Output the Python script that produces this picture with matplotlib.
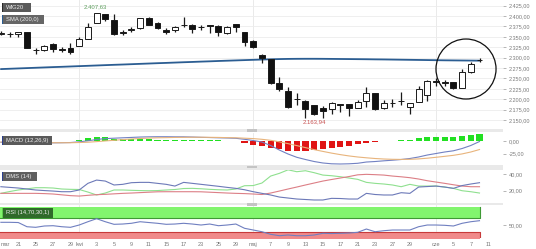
import numpy as np
import matplotlib
matplotlib.use("Agg")
import matplotlib.pyplot as plt
from matplotlib.patches import Rectangle, Ellipse

plt.rcParams['font.family'] = ['Liberation Sans', 'DejaVu Sans']

# WIG20 daily candles (index = trading session)
opens = [2356.9, 2356.9, 2356.9, 2361.0, 2319.2, 2318.4, 2332.1, 2320.6, 2322.5, 2328.8,
         2344.9, 2383.4, 2404.3, 2390.6, 2361.3, 2367.7, 2370.6, 2394.7, 2384.1, 2365.8,
         2366.5, 2378.1, 2378.6, 2373.3, 2377.4, 2376.2, 2358.6, 2380.3, 2361.0, 2340.8,
         2306.4, 2296.8, 2238.3, 2219.8, 2200.3, 2195.7, 2185.4, 2178.2, 2175.8, 2188.0,
         2187.8, 2179.6, 2195.7, 2214.3, 2178.2, 2192.1, 2195.3, 2180.6, 2194.1, 2210.2,
         2242.7, 2240.7, 2240.7, 2227.7, 2264.8, 2293.9]
highs = [2364.1, 2362.9, 2361.7, 2362.5, 2324.0, 2329.7, 2336.0, 2326.4, 2335.3, 2349.0,
         2384.1, 2408.5, 2405.8, 2405.8, 2366.5, 2373.8, 2395.4, 2398.5, 2385.8, 2370.6,
         2375.0, 2398.5, 2379.8, 2378.6, 2377.9, 2377.4, 2375.4, 2381.0, 2362.9, 2342.5,
         2308.8, 2297.5, 2252.8, 2230.1, 2215.0, 2198.2, 2187.3, 2183.7, 2193.3, 2188.5,
         2189.7, 2198.2, 2228.7, 2215.0, 2198.2, 2199.8, 2218.1, 2190.9, 2232.6, 2245.1,
         2251.8, 2245.5, 2241.9, 2272.7, 2290.3, 2299.9]
lows = [2354.5, 2350.9, 2350.4, 2323.2, 2308.8, 2317.2, 2314.3, 2313.6, 2308.8, 2328.1,
        2344.2, 2382.2, 2388.9, 2355.7, 2354.5, 2362.9, 2369.7, 2377.9, 2369.0, 2356.2,
        2361.0, 2373.8, 2358.6, 2367.7, 2360.0, 2352.8, 2357.6, 2361.0, 2328.8, 2324.4,
        2286.4, 2237.4, 2219.8, 2179.6, 2186.1, 2154.1, 2163.0, 2154.1, 2163.8, 2170.0,
        2159.7, 2178.9, 2182.0, 2174.8, 2175.8, 2180.6, 2186.1, 2163.8, 2193.3, 2196.5,
        2232.6, 2231.8, 2225.8, 2227.0, 2264.3, 2288.8]
closes = [2360.5, 2357.6, 2361.0, 2324.0, 2318.0, 2328.8, 2320.1, 2319.6, 2314.3, 2344.9,
          2374.5, 2407.63, 2392.3, 2356.2, 2360.5, 2368.5, 2394.7, 2378.6, 2370.6, 2362.5,
          2374.5, 2379.1, 2369.0, 2372.6, 2375.4, 2362.5, 2374.5, 2373.0, 2338.4, 2325.0,
          2298.5, 2238.3, 2223.9, 2180.6, 2199.4, 2175.8, 2163.94, 2172.4, 2190.2, 2186.1,
          2178.2, 2192.6, 2215.7, 2175.8, 2190.2, 2191.2, 2196.2, 2190.2, 2224.6, 2243.9,
          2241.7, 2239.0, 2227.7, 2264.8, 2284.0, 2294.9]

sma200 = [2272.5, 2273.3, 2274.1, 2274.9, 2275.7, 2276.5, 2277.3, 2278.0, 2278.8, 2279.6,
          2280.4, 2281.2, 2282.0, 2282.8, 2283.5, 2284.3, 2285.1, 2285.9, 2286.7, 2287.4,
          2288.2, 2289.0, 2289.7, 2290.5, 2291.2, 2292.0, 2292.7, 2293.4, 2294.1, 2294.8,
          2295.5, 2296.1, 2296.6, 2297.0, 2297.2, 2297.3, 2297.3, 2297.2, 2297.0, 2296.8,
          2296.6, 2296.4, 2296.2, 2295.9, 2295.7, 2295.4, 2295.1, 2294.8, 2294.5, 2294.2,
          2293.9, 2293.6, 2293.4, 2293.2, 2293.0, 2292.8]

macd_line = [-2.8, -3.2, -3.4, -3.8, -4.0, -4.0, -3.8, -3.6, -3.2, -1.8,
             0.2, 2.8, 4.6, 5.4, 6.2, 6.9, 7.7, 8.1, 8.3, 8.3,
             8.1, 8.1, 7.7, 7.1, 6.7, 6.2, 5.8, 5.2, 3.2, 0.8,
             -2.2, -9.1, -18.1, -26.0, -32.5, -36.9, -40.9, -43.8, -45.4, -45.8,
             -45.4, -44.4, -41.9, -40.9, -39.5, -38.3, -36.9, -34.9, -31.9, -28.0,
             -25.0, -22.0, -19.6, -15.1, -9.1, -1.2]
macd_signal = [-2.2, -2.4, -2.6, -3.0, -3.2, -3.4, -3.6, -3.6, -3.6, -3.2,
               -2.6, -1.4, 0.0, 1.2, 2.6, 3.8, 4.8, 5.6, 6.2, 6.5,
               6.9, 7.1, 7.3, 7.3, 7.1, 6.9, 6.5, 6.2, 5.4, 4.6,
               3.2, 1.2, -1.8, -5.4, -9.3, -13.3, -17.3, -20.8, -24.2, -27.2,
               -29.8, -31.9, -33.5, -34.9, -35.9, -36.5, -36.7, -36.5, -35.7, -34.3,
               -32.5, -30.6, -28.6, -25.8, -22.0, -17.1]
macd_hist = [-0.6, -0.6, -0.6, -0.6, -0.6, -0.6, -1.0, -1.0, -1.0, 1.5,
             5.0, 7.5, 7.0, 4.5, 3.5, 3.2, 3.0, 3.0, 2.8, 2.5,
             2.2, 2.0, 1.8, 1.5, 1.2, 1.0, 0.8, -0.8, -4.5, -8.0,
             -10.0, -13.5, -16.7, -19.4, -20.0, -20.0, -18.1, -16.7, -14.7, -11.5,
             -9.5, -6.2, -3.6, -2.8, -0.8, 0.6, 1.8, 2.4, 5.1, 7.1,
             8.3, 8.3, 8.3, 9.7, 11.7, 13.1]

dms_adx = [24.9, 24.1, 23.3, 22.1, 20.9, 20.2, 19.6, 18.8, 18.8, 20.9,
           29.0, 33.0, 31.8, 27.0, 27.8, 29.8, 30.2, 30.2, 29.0, 27.8,
           25.7, 30.2, 29.0, 27.8, 26.6, 25.4, 24.1, 22.9, 21.2, 18.8,
           16.8, 14.8, 12.3, 11.1, 9.9, 9.3, 8.7, 8.7, 10.7, 10.5,
           9.9, 9.9, 16.8, 15.4, 14.8, 14.8, 17.6, 16.8, 24.5, 25.1,
           25.7, 24.5, 22.9, 26.3, 28.2, 29.8]
dms_minus = [16.8, 19.0, 20.9, 22.3, 23.7, 23.7, 23.3, 22.1, 21.7, 21.5,
             18.4, 14.8, 17.2, 20.9, 20.9, 20.5, 20.2, 20.0, 20.2, 20.9,
             21.5, 22.7, 22.9, 22.4, 21.7, 21.2, 20.9, 22.1, 26.1, 26.3,
             29.4, 37.9, 41.2, 45.5, 43.2, 44.4, 42.0, 39.1, 38.3, 37.1,
             35.5, 33.9, 30.2, 29.0, 28.2, 27.0, 24.9, 27.8, 25.7, 25.7,
             25.7, 24.5, 22.9, 20.0, 18.8, 17.2]
dms_plus = [16.8, 16.8, 16.8, 16.8, 16.8, 16.5, 16.0, 15.0, 14.0, 13.5,
            14.4, 15.2, 15.6, 16.2, 16.8, 17.2, 17.7, 18.2, 18.7, 18.8,
            18.8, 18.8, 18.8, 18.7, 18.2, 17.7, 17.2, 16.8, 16.5, 16.0,
            15.4, 17.2, 19.6, 22.1, 24.5, 27.0, 29.4, 31.8, 33.7, 35.5,
            37.3, 39.4, 40.0, 39.6, 39.1, 37.9, 37.0, 35.9, 34.3, 32.2,
            30.6, 29.0, 27.3, 25.7, 24.9, 24.9]

rsi = [57.4, 57.4, 56.8, 45.3, 43.7, 47.3, 48.1, 45.3, 43.7, 50.0,
       59.0, 67.3, 59.0, 51.9, 52.7, 54.7, 59.0, 56.8, 54.7, 51.9,
       52.7, 54.7, 52.7, 50.0, 52.7, 48.1, 50.0, 52.7, 41.0, 36.3,
       31.6, 24.5, 20.7, 22.6, 20.7, 20.7, 22.6, 27.3, 26.7, 27.3,
       28.1, 30.0, 39.0, 31.6, 34.4, 36.3, 36.3, 36.3, 45.3, 50.0,
       50.0, 49.2, 47.3, 54.7, 59.0, 61.8]

date_pos = [0, 2, 4, 6, 8, 9, 11, 13, 15, 17, 19, 21, 23, 25, 27, 29, 31, 33, 35, 37,
            39, 41, 43, 45, 47, 50, 52, 54, 56]
date_labels = ['mar', '21', '25', '27', '29', 'kwi', '3', '5', '9', '11', '15', '17', '23',
               '25', '29', 'maj', '7', '9', '13', '15', '17', '21', '23', '27', '29',
               'cze', '5', '7', '11']
month_pos = [9, 29, 50]
price_ticks = [2150, 2175, 2200, 2225, 2250, 2275, 2300, 2325, 2350, 2375, 2400, 2425]


def pl(v):
    s = f"{v:,.2f}"
    return s.replace(',', ' ').replace('.', ',').replace(' ', '.')


W, H = 536, 249
fig = plt.figure(figsize=(W / 100, H / 100), dpi=100)
fig.patch.set_facecolor('white')
PLOT_W = 503


def px_axes(top, bottom):
    return fig.add_axes([0, 1 - bottom / H, PLOT_W / W, (bottom - top) / H])


def px_rect(x, y, w, h, **kw):
    fig.add_artist(Rectangle((x / W, 1 - (y + h) / H), w / W, h / H,
                             transform=fig.transFigure, **kw))


def tag(x, y, w, h, text, fc, strip):
    px_rect(x, y, w, h, fc=fc, ec='none', zorder=10)
    px_rect(x, y, 1.2, h, fc=strip, ec='none', zorder=11)
    fig.text((x + 4) / W, 1 - (y + h / 2) / H, text, color='#eeeeee', fontsize=4.2,
             va='center', ha='left', zorder=12)


# separators between panels
for top, bot in [(128.5, 132.5), (165, 169.5), (202.7, 205)]:
    px_rect(0, top, PLOT_W, bot - top, fc='#e9e9e9', ec='none', zorder=0)
    px_rect(247, top + 0.6, 10, 2.4, fc='#c4c4c4', ec='none', zorder=1)

ax_p = px_axes(0, 128.5)
ax_m = px_axes(132.5, 165)
ax_d = px_axes(169.5, 202.7)
ax_r = px_axes(205, 237.5)

n = len(opens)
x = np.arange(n)
o = np.array(opens)
c = np.array(closes)
xlim = (-0.1, 57.7)

for ax in (ax_p, ax_m, ax_d, ax_r):
    ax.set_xlim(*xlim)
    ax.set_facecolor('white')
    for s in ax.spines.values():
        s.set_visible(False)
    ax.yaxis.tick_right()
    ax.tick_params(axis='y', direction='out', length=2.5, width=0.5, colors='#999999',
                   labelcolor='#7a7a7a', labelsize=4, pad=1.5)
    ax.tick_params(axis='x', length=0, labelbottom=False)
    ax.set_xticks([])
    for m in month_pos:
        ax.axvline(m, color='#e6e6e6', lw=0.6, zorder=0)

# price panel
ax_p.set_ylim(2129.6, 2438.7)
ax_p.set_yticks(price_ticks)
ax_p.set_yticklabels([pl(v) for v in price_ticks])
ax_p.grid(axis='y', color='#ececec', lw=0.6, zorder=0)
ax_p.set_axisbelow(True)

ax_p.plot(x, sma200, color='#2b5d92', lw=1.3, zorder=2, solid_capstyle='round')
ax_p.vlines(x, lows, highs, color='#1a1a1a', lw=0.9, zorder=3)
body_col = np.where(c >= o, 'white', '#111111')
body_h = np.maximum(np.abs(c - o), 0.6)
ax_p.bar(x, body_h, bottom=np.minimum(o, c), width=0.68, color=body_col,
         edgecolor='#1a1a1a', linewidth=0.7, zorder=4)

i_hi = int(np.argmax(c))
i_lo = int(np.argmin(c))
ax_p.annotate(pl(c[i_hi]), (i_hi, highs[i_hi]), xytext=(-1, 2), textcoords='offset points',
              ha='center', va='bottom', fontsize=4.3, color='#5f9f5f')
ax_p.annotate(pl(c[i_lo]), (i_lo, lows[i_lo]), xytext=(0, -3.5), textcoords='offset points',
              ha='center', va='top', fontsize=4.3, color='#c85050')
ax_p.add_patch(Ellipse((53.45, 2272.7), 6.9, 144.3, fill=False, ec='#111111', lw=0.9, zorder=5))

# MACD
ax_m.set_ylim(-47.8, 16.7)
ax_m.set_yticks([0, -25])
ax_m.set_yticklabels(['0,00', '-25,00'])
hist = np.array(macd_hist)
ax_m.bar(x, hist, width=0.7, color=np.where(hist >= 0, '#22e022', '#e01414'), zorder=2)
ax_m.plot(x, macd_line, color='#7281c2', lw=0.8, zorder=3)
ax_m.plot(x, macd_signal, color='#e8b47c', lw=0.8, zorder=3)

# DMS
ax_d.set_ylim(5.4, 45.9)
ax_d.set_yticks([40, 20])
ax_d.set_yticklabels(['40,00', '20,00'])
ax_d.plot(x, dms_minus, color='#8fe08f', lw=0.8, zorder=3)
ax_d.plot(x, dms_plus, color='#dc7f86', lw=0.8, zorder=3)
ax_d.plot(x, dms_adx, color='#6c79b8', lw=0.8, zorder=4)

# RSI
ax_r.set_ylim(15.8, 104.8)
ax_r.set_yticks([50])
ax_r.set_yticklabels(['50,00'])
band_x = [xlim[0], n - 1]
ax_r.fill_between(band_x, 70, 100, color='#82f56e', lw=0, zorder=1)
ax_r.plot([n - 1, n - 1, xlim[0]], [100, 70, 70], color='#3f9a35', lw=0.8, zorder=2)
ax_r.fill_between(band_x, 0, 30, color='#f08a8a', lw=0, zorder=1)
ax_r.plot([xlim[0], n - 1, n - 1], [30, 30, 0], color='#c83a3a', lw=0.8, zorder=2)
ax_r.plot(x, rsi, color='#6f7fc0', lw=0.8, zorder=3)

ax_r.set_xticks(date_pos)
ax_r.set_xticklabels(date_labels)
ax_r.tick_params(axis='x', length=0, labelbottom=True, labelsize=4, labelcolor='#777777', pad=3)
ax_r.get_xticklabels()[0].set_horizontalalignment('left')

# panel tags
tag(1.7, 2.7, 29, 9.3, 'WIG20', '#5a5a5a', '#2a2a2a')
tag(1.7, 15, 42.6, 9.3, 'SMA (200,0)', '#666666', '#2b5d92')
tag(1.7, 135.7, 50, 9.3, 'MACD (12,26,9)', '#5a5a5a', '#2b3f8f')
tag(1.7, 171.7, 35, 9.3, 'DMS (14)', '#5f5f5f', '#2b3f8f')
tag(1.7, 208.3, 51, 9.3, 'RSI (14,70,30,1)', '#2f6a2a', '#5fd04f')

fig.savefig('out.png', dpi=100, facecolor='white')
